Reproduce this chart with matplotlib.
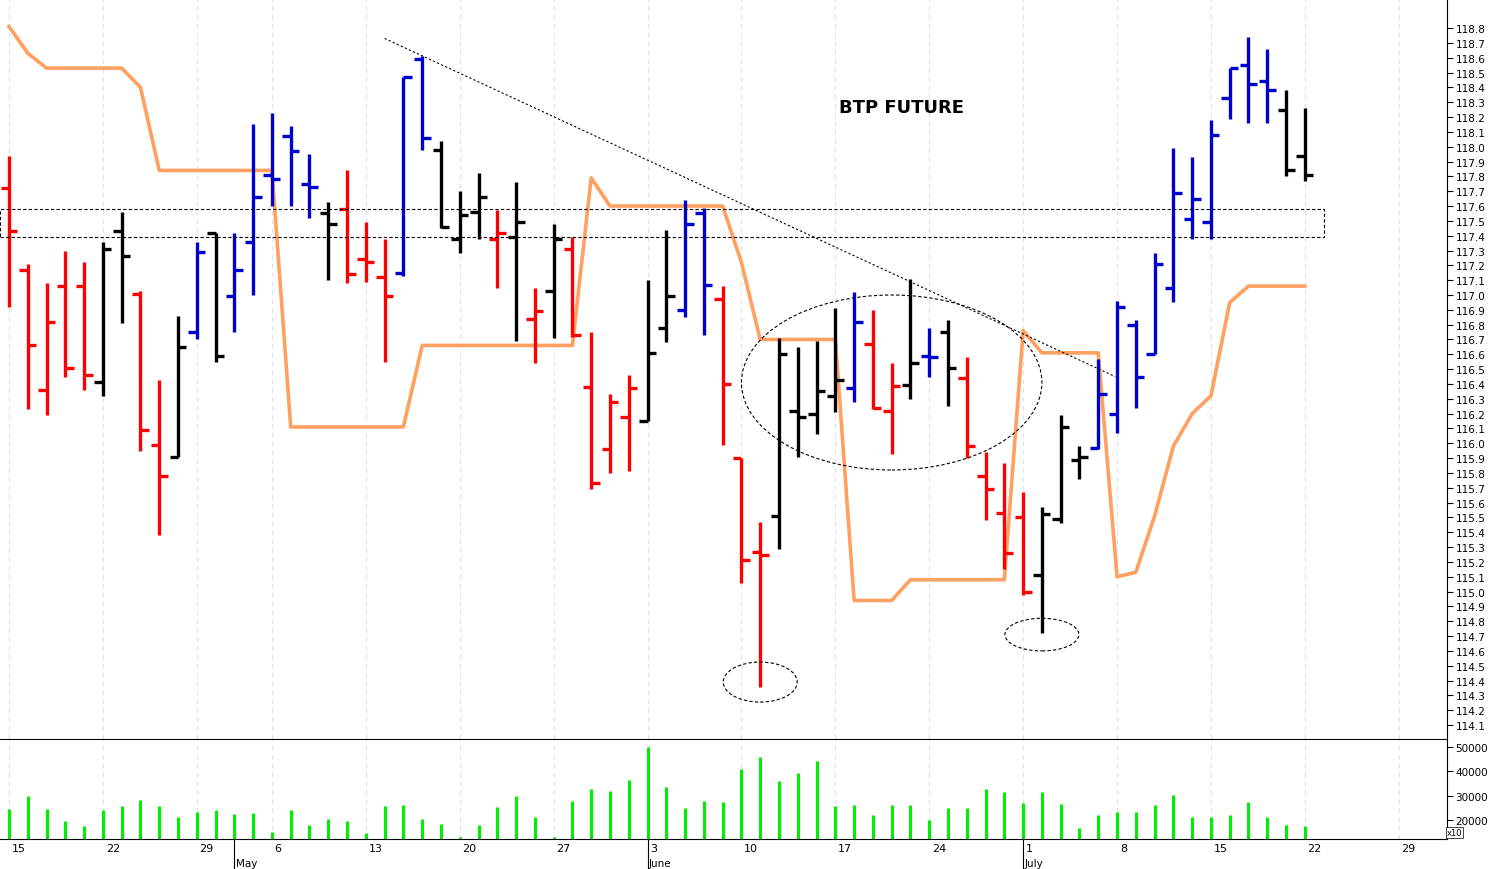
import matplotlib
matplotlib.use("Agg")
import matplotlib.pyplot as plt
from matplotlib.patches import Ellipse, Rectangle
import matplotlib.transforms as mt
import numpy as np

opens = [117.72,117.17,116.36,117.06,117.06,116.41,117.43,117.01,115.99,115.91,
         116.75,117.42,116.99,117.36,117.81,118.07,117.75,117.55,117.58,117.24,
         117.12,117.15,118.59,117.98,117.38,117.56,117.38,117.39,116.84,117.03,
         117.31,116.38,115.96,116.18,116.15,116.78,116.90,117.55,116.97,115.90,
         115.27,115.51,116.22,116.20,116.32,116.37,116.67,116.22,116.39,116.59,
         116.75,116.44,115.78,115.53,115.50,115.11,115.49,115.89,115.97,116.20,
         116.80,116.60,117.05,117.51,117.49,118.33,118.55,118.44,118.25,117.94]
highs = [117.94,117.21,117.08,117.30,117.22,117.36,117.56,117.03,116.43,116.86,
         117.36,117.42,117.42,118.15,118.23,118.14,117.95,117.63,117.84,117.49,
         117.38,118.47,118.61,118.04,117.70,117.82,117.57,117.76,117.05,117.48,
         117.39,116.75,116.33,116.46,117.10,117.44,117.64,117.59,117.06,115.90,
         115.47,116.71,116.65,116.69,116.91,117.02,116.90,116.54,117.11,116.78,
         116.83,116.58,115.94,115.87,115.67,115.57,116.19,115.98,116.57,116.96,
         116.83,117.28,117.99,117.93,118.18,118.53,118.74,118.66,118.38,118.26]
lows = [116.92,116.23,116.19,116.45,116.36,116.32,116.81,115.95,115.38,115.91,
        116.70,116.55,116.75,117.00,117.60,117.60,117.52,117.10,117.08,117.09,
        116.55,117.13,117.98,117.45,117.28,117.38,117.05,116.69,116.54,116.71,
        116.72,115.69,115.80,115.81,116.15,116.68,116.85,116.73,115.99,115.06,
        114.36,115.29,115.91,116.06,116.21,116.28,116.23,115.93,116.30,116.45,
        116.25,115.90,115.48,115.15,114.98,114.72,115.46,115.76,115.96,116.07,
        116.24,116.60,116.95,117.38,117.38,118.19,118.16,118.16,117.80,117.77]
closes = [117.43,116.66,116.82,116.51,116.46,117.31,117.26,116.09,115.78,116.65,
          117.29,116.59,117.17,117.66,117.78,117.97,117.73,117.48,117.14,117.22,
          116.99,118.47,118.06,117.46,117.54,117.66,117.42,117.49,116.89,117.38,
          116.73,115.73,116.28,116.37,116.61,116.99,117.48,117.07,116.40,115.21,
          115.25,116.60,116.18,116.35,116.43,116.82,116.24,116.385,116.54,116.58,
          116.51,115.98,115.69,115.26,115.00,115.52,116.11,115.91,116.33,116.92,
          116.45,117.21,117.69,117.65,118.08,118.53,118.42,118.38,117.84,117.81]
bar_colors = (["r"]*5 + ["k"]*2 + ["r"]*2 + ["k"]
              + ["b","k","b","b","b","b","b","k","r","r","r","b","b","k","k","k","r","k","r","k","r"]
              + ["r"]*3 + ["k"]*2 + ["b"]*2 + ["r"]*3 + ["k"]*4 + ["b","r","r","k","b","k"]
              + ["r"]*4 + ["k"]*3 + ["b"]*10 + ["k"]*2)
stop_line = [118.81,118.63,118.53,118.53,118.53,118.53,118.53,118.40] + [117.84]*7 + [116.11]*7 + [116.66]*9 + \
            [117.79] + [117.60]*7 + [117.22] + [116.70]*5 + [114.94]*3 + [115.08]*6 + [116.76] + [116.61]*4 + \
            [115.10,115.13,115.51,115.98,116.20,116.32,116.95] + [117.06]*4
volume = [24500,30000,24500,19500,17500,24000,25700,28200,25700,21200,
          23300,24000,22400,22800,15000,24000,18000,20400,19500,14600,
          25700,26100,20400,18300,13000,18000,25300,30000,21200,13000,
          27800,32700,31900,36400,50000,33500,24900,27800,27400,41000,
          46000,36000,39300,44200,25700,26100,22000,26100,26100,20000,
          24900,24900,32700,31500,27000,31500,26500,16700,22000,23300,
          23300,26100,30200,21200,21200,22000,27400,21200,18000,17500]
week_idx = [0,5,10,14,19,24,29,34,39,44,49,54,59,64,69,74]
week_labels = ["15","22","29","6","13","20","27","3","10","17","24","1","8","15","22","29"]
month_idx = [12,34,54]
month_labels = ["May","June","July"]
price_ticks = np.round(np.arange(114.1,118.81,0.1),1)

cmap = {"r":"#ff0000","b":"#0000cc","k":"#000000"}
W,H = 1495,870
fig = plt.figure(figsize=(W/100,H/100),dpi=100)
xl,xr = 0/W, 1447/W
ax = fig.add_axes([xl,1-740/H,xr-xl,740/H])
axv = fig.add_axes([xl,1-840/H,xr-xl,99/H])
n=len(opens); x=np.arange(n)
for a in (ax,axv):
    a.set_xlim(-0.48,76.57)
    for w in week_idx:
        a.axvline(w,color="#dde0ea",lw=0.8,ls=(0,(4,4)),zorder=0)
    for s in ["left","top"]:
        a.spines[s].set_visible(False)
    a.yaxis.tick_right()
    a.tick_params(axis="y",labelsize=7.5,length=4,pad=2)
ax.set_ylim(114.006,118.996)
ax.set_yticks(price_ticks)
ax.set_yticklabels([f"{v:.1f}" for v in price_ticks])
ax.set_xticks([])
tk=0.45
for i in range(n):
    c=cmap[bar_colors[i]]
    ax.plot([i,i],[lows[i],highs[i]],color=c,lw=2.4,solid_capstyle="butt",zorder=3)
    ax.plot([i-tk,i],[opens[i],opens[i]],color=c,lw=2.4,solid_capstyle="butt",zorder=3)
    ax.plot([i,i+tk],[closes[i],closes[i]],color=c,lw=2.4,solid_capstyle="butt",zorder=3)
ax.plot(x,stop_line,color="#ffa060",lw=2.6,zorder=2)
ax.plot([20.0,58.9],[118.73,116.45],color="k",lw=0.8,ls=(0,(2,2)),zorder=4)
ax.add_patch(Rectangle((-0.5,117.39),70.5,0.19,fill=False,ec="k",lw=0.8,ls=(0,(3,2)),zorder=4))
ax.add_patch(Ellipse((47.0,116.41),16.0,1.18,fill=False,ec="k",lw=0.8,ls=(0,(3,2)),zorder=4))
ax.add_patch(Ellipse((40.0,114.39),3.94,0.27,fill=False,ec="k",lw=0.8,ls=(0,(3,2)),zorder=4))
ax.add_patch(Ellipse((55.0,114.71),3.94,0.22,fill=False,ec="k",lw=0.8,ls=(0,(3,2)),zorder=4))
ax.text(47.5,118.27,"BTP FUTURE",fontsize=13,fontweight="bold",ha="center",va="center")

axv.set_ylim(12140,52900)
axv.set_yticks([20000,30000,40000,50000])
axv.set_yticklabels(["20000","30000","40000","50000"])
axv.vlines(x,12140,volume,color="#00ee00",lw=2.2)
axv.set_xticks(week_idx)
axv.set_xticklabels(week_labels,fontsize=8,ha="left")
axv.tick_params(axis="x",length=0,pad=3)
off = mt.ScaledTranslation(2/72,0,fig.dpi_scale_trans)
for lab in axv.get_xticklabels():
    lab.set_transform(lab.get_transform()+off)
bt = mt.blended_transform_factory(axv.transData,axv.transAxes)
for m,lbl in zip(month_idx,month_labels):
    axv.annotate(lbl,xy=(m,0),xycoords=("data","axes fraction"),xytext=(1,-17),
                 textcoords="offset points",fontsize=7.5,ha="left",va="center",annotation_clip=False)
    axv.plot([m,m],[0,-0.3],transform=bt,color="k",lw=0.8,clip_on=False)
axv.text(1.0,0.02,"x10",transform=axv.transAxes,fontsize=6,ha="left",va="bottom",
         bbox=dict(fc="white",ec="k",lw=0.5,pad=0.5))
fig.savefig("out.png",dpi=100)
